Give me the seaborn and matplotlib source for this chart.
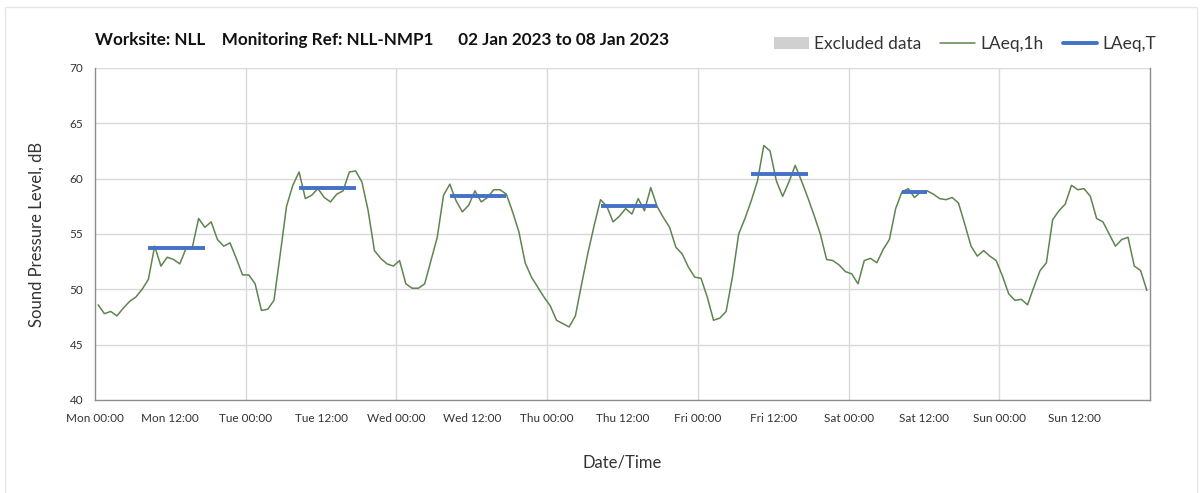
import numpy as np
import pandas as pd
import seaborn as sns
import matplotlib.pyplot as plt
from matplotlib.patches import Patch, Rectangle
from matplotlib.lines import Line2D

# hourly LAeq,1h values, Mon 00:00 -> Sun 23:00 (one value per hour)
mon = [48.6, 47.8, 48.0, 47.6, 48.3, 48.9, 49.3, 50.0, 50.9, 53.9, 52.1, 52.9,
       52.7, 52.3, 53.7, 53.8, 56.4, 55.6, 56.1, 54.5, 53.9, 54.2, 52.8, 51.3]
tue = [51.3, 50.5, 48.1, 48.2, 49.0, 53.2, 57.5, 59.4, 60.6, 58.2, 58.5, 59.1,
       58.3, 57.9, 58.6, 58.9, 60.6, 60.7, 59.7, 57.1, 53.5, 52.8, 52.3, 52.1]
wed = [52.6, 50.5, 50.1, 50.1, 50.5, 52.6, 54.7, 58.5, 59.5, 58.0, 57.0, 57.6,
       58.9, 57.9, 58.3, 59.0, 59.0, 58.6, 57.0, 55.2, 52.4, 51.1, 50.2, 49.3]
thu = [48.5, 47.2, 46.9, 46.6, 47.6, 50.5, 53.3, 55.8, 58.1, 57.5, 56.1, 56.6,
       57.3, 56.8, 58.2, 57.1, 59.2, 57.5, 56.5, 55.6, 53.8, 53.2, 52.0, 51.1]
fri = [51.0, 49.3, 47.2, 47.4, 48.0, 51.1, 55.0, 56.4, 58.0, 59.8, 63.0, 62.5,
       59.8, 58.4, 59.7, 61.2, 59.8, 58.3, 56.7, 55.0, 52.7, 52.6, 52.2, 51.6]
sat = [51.4, 50.5, 52.6, 52.8, 52.4, 53.6, 54.5, 57.3, 58.8, 59.1, 58.3, 58.8,
       58.9, 58.6, 58.2, 58.1, 58.3, 57.8, 55.9, 53.9, 53.0, 53.5, 53.0, 52.6]
sun = [51.2, 49.6, 49.0, 49.1, 48.6, 50.2, 51.7, 52.4, 56.3, 57.1, 57.7, 59.4,
       59.0, 59.1, 58.4, 56.4, 56.1, 55.0, 53.9, 54.5, 54.7, 52.1, 51.7, 49.9]

days = ["Mon", "Tue", "Wed", "Thu", "Fri", "Sat", "Sun"]

# LAeq,T over the working periods (day index, start hour, end hour, level)
period_day = [0, 1, 2, 3, 4, 5]
period_start = [8, 8, 8, 8, 8, 8]
period_end = [18, 18, 18, 18, 18, 13]
period_level = [53.7, 59.2, 58.4, 57.5, 60.4, 58.8]

levels = mon + tue + wed + thu + fri + sat + sun
df = pd.DataFrame({"hour": np.arange(len(levels)) + 0.5, "LAeq": levels})

sns.set_style("white")
plt.rcParams["font.family"] = ["Lato", "DejaVu Sans"]

fig = plt.figure(figsize=(12.03, 4.93), dpi=100)
ax = fig.add_axes([95 / 1203, 1 - 400 / 493, 1055 / 1203, 332 / 493])

green = "#5f8450"
blue = "#4472c4"
grid = "#d9d9d9"
axis_col = "#8c8c8c"

sns.lineplot(data=df, x="hour", y="LAeq", ax=ax, color=green, linewidth=1.1)

for d, s, e, v in zip(period_day, period_start, period_end, period_level):
    ax.hlines(v, d * 24 + s + 0.5, d * 24 + e - 0.5, color=blue, linewidth=2.8, zorder=3)

ax.set_xlim(0, 168)
ax.set_ylim(40, 70)
ax.set_yticks(range(40, 71, 5))
ax.set_xticks(range(0, 169, 12))
ax.set_xticklabels([f"{days[i // 2]} {'00:00' if i % 2 == 0 else '12:00'}" for i in range(14)] + [""])

ax.grid(False)
for h in range(24, 168, 24):
    ax.axvline(h, color=grid, linewidth=1, zorder=0)
for v in range(45, 71, 5):
    ax.axhline(v, color=grid, linewidth=1, zorder=0)

for side in ["left", "bottom", "right"]:
    ax.spines[side].set_color(axis_col)
    ax.spines[side].set_linewidth(1)
ax.spines["top"].set_visible(False)

ax.tick_params(axis="both", which="major", direction="out", length=5, width=1,
               color=axis_col, labelsize=8.5, labelcolor="#333333")
ax.tick_params(axis="x", pad=4)

ax.set_xlabel("Date/Time", fontsize=12, color="#333333", labelpad=22)
ax.set_ylabel("Sound Pressure Level, dB", fontsize=12, color="#333333", labelpad=18)

fig.text(95 / 1203, 1 - 40 / 493,
         "Worksite: NLL    Monitoring Ref: NLL-NMP1      02 Jan 2023 to 08 Jan 2023",
         fontsize=12.3, fontweight="bold", color="#111111", va="center", ha="left")

handles = [
    Patch(facecolor="#d0d0d0", edgecolor="none"),
    Line2D([], [], color=green, linewidth=1.1),
    Line2D([], [], color=blue, linewidth=2.8),
]
fig.legend(handles, ["Excluded data", "LAeq,1h", "LAeq,T"], ncol=3,
           loc="center right", bbox_to_anchor=(1172 / 1203, 1 - 44 / 493),
           frameon=False, fontsize=12.5, handlelength=2.0, handleheight=0.7,
           handletextpad=0.3, columnspacing=1.1, labelcolor="#333333")

fig.patches.append(Rectangle((5 / 1203, -0.01), 1192 / 1203, 1 - 7 / 493 + 0.01,
                             transform=fig.transFigure, fill=False,
                             edgecolor="#e6e6e6", linewidth=1))

fig.savefig("out.png", dpi=100)
